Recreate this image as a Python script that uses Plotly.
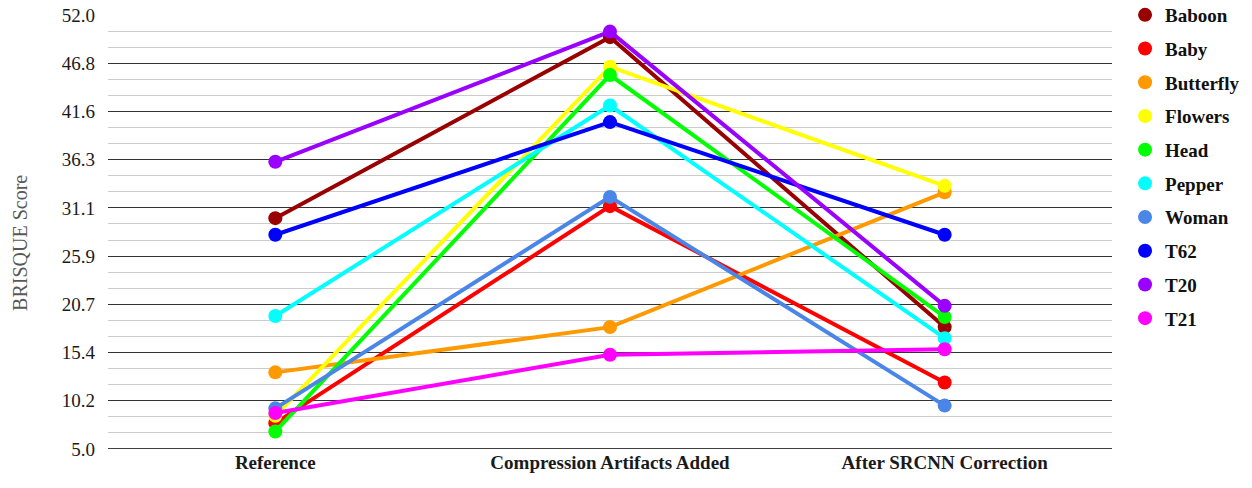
import plotly.graph_objects as go

categories = ["Reference", "Compression Artifacts Added", "After SRCNN Correction"]
series_names = ["Baboon", "Baby", "Butterfly", "Flowers", "Head", "Pepper", "Woman", "T62", "T20", "T21"]
baboon = [30.0, 49.6, 18.2]
baby = [7.8, 31.3, 12.2]
butterfly = [13.3, 18.2, 32.8]
flowers = [8.6, 46.4, 33.5]
head = [6.9, 45.5, 19.3]
pepper = [19.4, 42.2, 17.0]
woman = [9.4, 32.3, 9.7]
t62 = [28.2, 40.4, 28.2]
t20 = [36.1, 50.2, 20.5]
t21 = [8.9, 15.2, 15.8]
series_values = [baboon, baby, butterfly, flowers, head, pepper, woman, t62, t20, t21]
colors = ["#990000", "#FF0000", "#FF9900", "#FFFF00", "#00FF00", "#00FFFF", "#4A86E8", "#0000FF", "#9900FF", "#FF00FF"]
y_min, y_max = 5.0, 52.0
n_major = 9
tick_vals = [y_min + i * (y_max - y_min) / n_major for i in range(n_major + 1)]
tick_text = ["5.0", "10.2", "15.4", "20.7", "25.9", "31.1", "36.3", "41.6", "46.8", "52.0"]

fig = go.Figure()
for name, vals, c in zip(series_names, series_values, colors):
    fig.add_trace(go.Scatter(x=categories, y=vals, mode="lines+markers", name=name,
                             line=dict(color=c, width=4), marker=dict(color=c, size=14),
                             showlegend=False, legendgroup=name))
for name, c in zip(series_names, colors):
    fig.add_trace(go.Scatter(x=[None], y=[None], mode="markers", name=name,
                             marker=dict(color=c, size=14), legendgroup=name, showlegend=True))

serif = "Liberation Serif, Times New Roman, serif"
fig.update_layout(
    width=1252, height=488,
    margin=dict(l=108, r=140, t=15, b=39, autoexpand=False),
    paper_bgcolor="white", plot_bgcolor="white",
    font=dict(family=serif, size=19, color="#1a1a1a"),
    showlegend=True,
    legend=dict(x=1.013, xanchor="left", y=1.0438, yanchor="top", maxheight=470,
                font=dict(family=serif, size=19, color="#111111", weight="bold"),
                tracegroupgap=6, bgcolor="rgba(0,0,0,0)"),
    xaxis=dict(type="category", range=[-0.5, 2.5], showgrid=False, zeroline=False,
               showline=False, ticks="",
               tickfont=dict(family=serif, size=19, color="#1a1a1a", weight="bold")),
    yaxis=dict(range=[y_min, y_max], tickmode="array", tickvals=tick_vals, ticktext=tick_text,
               showgrid=True, gridcolor="#333333", gridwidth=1, zeroline=False,
               showline=False, ticks="", ticklabelstandoff=12, ticklabeloverflow="allow",
               tickfont=dict(family=serif, size=19, color="#1a1a1a"),
               minor=dict(tickmode="array",
                          tickvals=[tick_vals[0] + k * (y_max - y_min) / (n_major * 3) for k in range(n_major * 3 + 1) if k % 3 != 0],
                          showgrid=True, gridcolor="#cccccc", gridwidth=1)),
)
fig.add_shape(type="line", xref="paper", yref="y", x0=0, x1=1, y0=y_min, y1=y_min,
              line=dict(color="#000000", width=1.5))
fig.add_annotation(text="BRISQUE Score", xref="paper", yref="paper", x=-0.0876, y=0.475,
                   textangle=-90, showarrow=False, xanchor="center", yanchor="middle",
                   font=dict(family=serif, size=20, color="#595959"))
fig.write_html("out.html", config={"displayModeBar": False},
               post_script="document.body.style.margin='0';")
